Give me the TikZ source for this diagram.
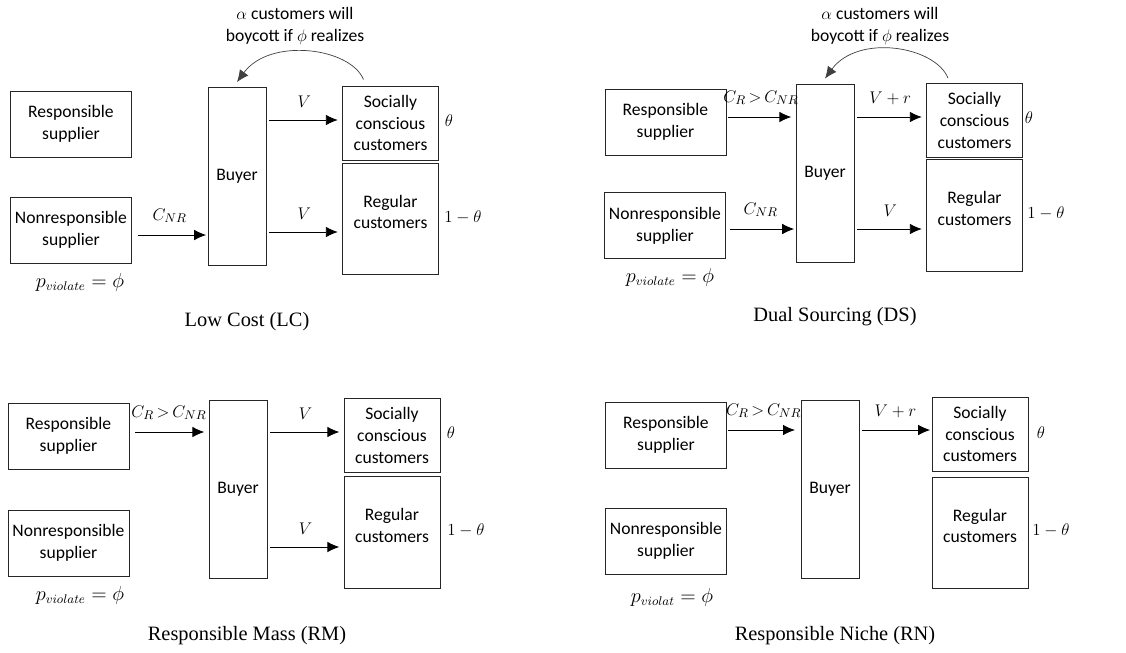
\documentclass[tikz,border=0pt]{standalone}
\usepackage{amsmath, amssymb}
\usepackage{fontspec}
\setmainfont{Carlito}
\newfontfamily\titlefont{Liberation Serif}
\usetikzlibrary{arrows.meta}
\usetikzlibrary{positioning}

\newcommand{\lowpad}{\rule[-10pt]{0pt}{10pt}}
\newcommand{\costgap}{$C_R\,{>}\,C_{NR}$}

\begin{document}
\begin{tikzpicture}[x=0.025cm, y=-0.025cm, font=\fontsize{12.5}{15.5}\selectfont]
\tikzstyle{box} = [draw=black!85, line width=0.6pt, align=center, inner sep=0pt]
\tikzstyle{supplier} = [box, minimum width=3.025cm, minimum height=1.65cm]
\tikzstyle{buyer} = [box, minimum width=1.45cm, minimum height=4.45cm]
\tikzstyle{social} = [box, minimum width=2.4cm, minimum height=1.85cm]
\tikzstyle{regular} = [box, minimum width=2.4cm, minimum height=2.78cm]
\tikzstyle{sym} = [font=\fontsize{13.5}{17}\selectfont]
\tikzstyle{flow} = [line width=0.6pt, -{Latex[length=8.5pt, width=7.5pt]}]
\tikzstyle{boycott} = [black!75, line width=0.5pt, -{Latex[length=8.5pt, width=7.5pt]}]
\tikzstyle{lbl} = [above=5pt]
\tikzstyle{title} = [font=\titlefont\fontsize{14.5}{17}\selectfont]

\useasboundingbox (0,0) rectangle (1126,652);

% Low Cost
\node[supplier] (lcR) at (71,124) {Responsible\\supplier};
\node[supplier] (lcN) at (71,230) {Nonresponsible\\supplier};
\node[buyer] (lcB) at (237,176.5) {Buyer};
\node[social] (lcS) at (390.5,123) {Socially\\conscious\\customers};
\node[regular] (lcC) at (390.5,219) {Regular\\customers\lowpad};
\node[sym] (lcP) at (80,282) {$p_{violate} = \phi$};
\node (lcTh) at (449,121) {$\theta$};
\node (lcTh1) at (463,217) {$1-\theta$};
\node[align=center] (lcA) at (295,26) {$\alpha$ customers will\\boycott if $\phi$ realizes};
\node[title] (lcT) at (247,322) {Low Cost (LC)};

\draw[flow, shorten <=4pt, shorten >=1pt] (lcN.east |- 0,235) -- (lcB.west |- 0,235) node[lbl, midway] (lcCN) {$C_{NR}$};
\draw[flow, shorten <=2pt, shorten >=3pt] (lcB.east |- 0,120) -- (lcS.west |- 0,120) node[lbl, midway] (lcV1) {$V$};
\draw[flow, shorten <=2pt, shorten >=3pt] (lcB.east |- 0,232) -- (lcC.west |- 0,232) node[lbl, midway] (lcV2) {$V$};
\draw[boycott] ([shift={(-27,-6)}]lcS.north) .. controls +(-13,-32) and +(33,-45) .. ([shift={(0,-5)}]lcB.north);

% Dual Sourcing
\node[supplier] (dsR) at (665.5,122) {Responsible\\supplier};
\node[supplier] (dsN) at (665,225.5) {Nonresponsible\\supplier};
\node[buyer] (dsB) at (825,173) {Buyer};
\node[social] (dsS) at (974.5,120.5) {Socially\\conscious\\customers};
\node[regular] (dsC) at (974.5,215.5) {Regular\\customers\lowpad};
\node[sym] (dsP) at (670,277) {$p_{violate} = \phi$};
\node (dsTh) at (1029,118) {$\theta$};
\node (dsTh1) at (1046,213) {$1-\theta$};
\node[align=center] (dsA) at (880,26) {$\alpha$ customers will\\boycott if $\phi$ realizes};
\node[title] (dsT) at (835,317) {Dual Sourcing (DS)};

\draw[flow, shorten <=1pt, shorten >=3pt] (dsR.east |- 0,117) -- (dsB.west |- 0,117) node[lbl, midway] (dsCR) {\costgap};
\draw[flow, shorten <=3pt, shorten >=1pt] (dsN.east |- 0,229) -- (dsB.west |- 0,229) node[lbl, midway] (dsCN) {$C_{NR}$};
\draw[flow, shorten <=2pt, shorten >=3pt] (dsB.east |- 0,117) -- (dsS.west |- 0,117) node[lbl, midway] (dsV1) {$V+r$};
\draw[flow, shorten <=2pt, shorten >=3pt] (dsB.east |- 0,229) -- (dsC.west |- 0,229) node[lbl, midway] (dsV2) {$V$};
\draw[boycott] ([shift={(-26.5,-5)}]dsS.north) .. controls +(-13,-32) and +(33,-45) .. ([shift={(0,-5)}]dsB.north);

% Responsible Mass
\node[supplier] (rmR) at (68.5,436) {Responsible\\supplier};
\node[supplier] (rmN) at (68.5,543) {Nonresponsible\\supplier};
\node[buyer] (rmB) at (238,489.5) {Buyer};
\node[social] (rmS) at (392,435.5) {Socially\\conscious\\customers};
\node[regular] (rmC) at (392,532.5) {Regular\\customers\lowpad};
\node[sym] (rmP) at (80,595) {$p_{violate} = \phi$};
\node (rmTh) at (451,433) {$\theta$};
\node (rmTh1) at (466,530) {$1-\theta$};
\node[title] (rmT) at (247,636) {Responsible Mass (RM)};

\draw[flow, shorten <=4pt, shorten >=3pt] (rmR.east |- 0,432) -- (rmB.west |- 0,432) node[lbl, midway] (rmCR) {\costgap};
\draw[flow, shorten <=2pt, shorten >=3pt] (rmB.east |- 0,432) -- (rmS.west |- 0,432) node[lbl, midway] (rmV1) {$V$};
\draw[flow, shorten <=2pt, shorten >=3pt] (rmB.east |- 0,547) -- (rmC.west |- 0,547) node[lbl, midway] (rmV2) {$V$};

% Responsible Niche
\node[supplier] (rnR) at (666,435) {Responsible\\supplier};
\node[supplier] (rnN) at (666,541) {Nonresponsible\\supplier};
\node[buyer] (rnB) at (830,489) {Buyer};
\node[social] (rnS) at (980,434) {Socially\\conscious\\customers};
\node[regular] (rnC) at (980,533) {Regular\\customers\lowpad};
\node[sym] (rnP) at (672,597) {$p_{violat} = \phi$};
\node (rnTh) at (1041,433) {$\theta$};
\node (rnTh1) at (1051,530) {$1-\theta$};
\node[title] (rnT) at (835,636) {Responsible Niche (RN)};

\draw[flow, shorten <=1pt, shorten >=4pt] (rnR.east |- 0,430) -- (rnB.west |- 0,430) node[lbl, midway] (rnCR) {\costgap};
\draw[flow, shorten <=2pt, shorten >=1pt] (rnB.east |- 0,430) -- (rnS.west |- 0,430) node[lbl, midway] (rnV1) {$V+r$};

\end{tikzpicture}
\end{document}
